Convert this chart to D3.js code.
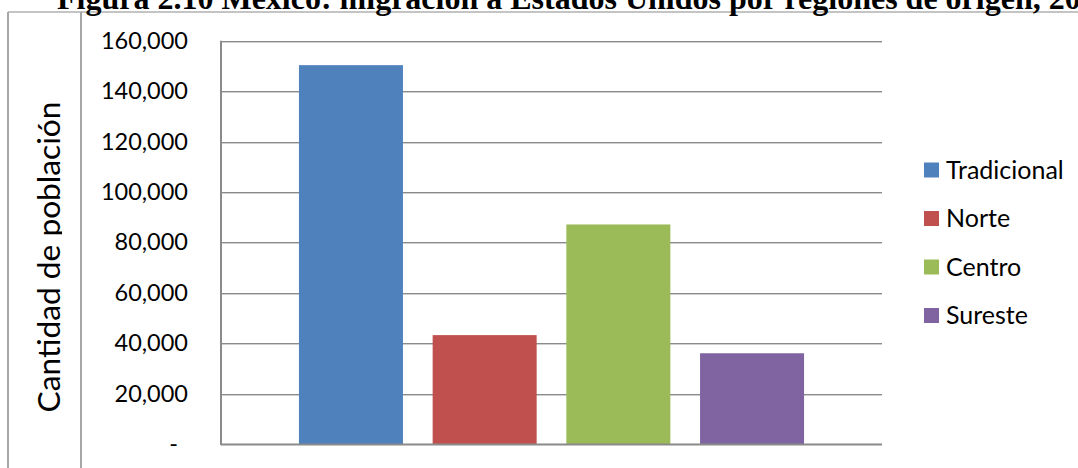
<!DOCTYPE html>
<html>
<head>
<meta charset="utf-8">
<script src="https://cdn.jsdelivr.net/npm/d3@7"></script>
<style>
  html, body { margin: 0; padding: 0; background: #fff; }
  svg { display: block; }
</style>
</head>
<body>
<svg id="chart" width="1078" height="468"></svg>
<script>
// Migrants to the United States by region of origin
const regions = ["Tradicional", "Norte", "Centro", "Sureste"];
const population = [150300, 43200, 87100, 36000];
const regionColors = ["#4F81BD", "#C0504D", "#9BBB59", "#8064A2"];
const yTicks = [0, 20000, 40000, 60000, 80000, 100000, 120000, 140000, 160000];
const titleText = "Figura 2.10 México: migración a Estados Unidos por regiones de origen, 2010";
const yTitle = "Cantidad de población";

const svg = d3.select("#chart");
const W = 1078, H = 468;
const plot = { left: 221, right: 882, top: 40.7, bottom: 444 };
const labelFont = "Lato, 'Open Sans', sans-serif";

// Frame of the figure
svg.append("line").attr("x1", 8).attr("x2", W).attr("y1", 12).attr("y2", 12)
  .attr("stroke", "#8a8a8a").attr("stroke-width", 1.2);
[8, 81].forEach(x => {
  svg.append("line").attr("x1", x).attr("x2", x).attr("y1", 12).attr("y2", H)
    .attr("stroke", "#a6a6a6").attr("stroke-width", 2);
});

// Figure title (runs off the top and right of the page)
svg.append("text")
  .attr("x", 57).attr("y", 8.5)
  .attr("font-family", "'Liberation Serif', 'Times New Roman', serif")
  .attr("font-weight", "bold")
  .attr("font-size", 32)
  .attr("fill", "#000")
  .text(titleText);

const y = d3.scaleLinear().domain([0, 160000]).range([plot.bottom, plot.top]);
const x = d3.scaleBand().domain(regions).range([plot.left, plot.right])
  .paddingInner(0.222).paddingOuter(0.583);

// Horizontal gridlines
const grid = svg.append("g");
yTicks.filter(t => t > 0).forEach(t => {
  const yy = Math.round(y(t));
  grid.append("line").attr("x1", plot.left).attr("x2", plot.right)
    .attr("y1", yy + 0.5).attr("y2", yy + 0.5).attr("stroke", "#8a8a8a");
  grid.append("line").attr("x1", plot.left).attr("x2", plot.right)
    .attr("y1", yy + 1.5).attr("y2", yy + 1.5).attr("stroke", "#cfcfcf");
});

// Bars
svg.append("g").selectAll("rect")
  .data(regions.map((r, i) => ({ region: r, value: population[i], color: regionColors[i] })))
  .join("rect")
  .attr("x", d => x(d.region))
  .attr("width", x.bandwidth())
  .attr("y", d => y(d.value))
  .attr("height", d => y(0) - y(d.value))
  .attr("fill", d => d.color);

// Y axis
const fmt = d3.format(",");
const yAxis = d3.axisLeft(y).tickValues(yTicks).tickSize(0).tickPadding(33)
  .tickFormat(d => d === 0 ? "-" : fmt(d));
const gy = svg.append("g").attr("transform", `translate(${plot.left},0)`).call(yAxis);
gy.select(".domain").remove();
gy.selectAll("text")
  .attr("font-family", labelFont).attr("font-size", 23.5).attr("fill", "#000")
  .attr("dx", d => d === 0 ? -10 : 0);

// Axis lines
svg.append("line").attr("x1", plot.left).attr("x2", plot.left)
  .attr("y1", plot.top).attr("y2", plot.bottom + 1)
  .attr("stroke", "#8a8a8a").attr("stroke-width", 2);
svg.append("line").attr("x1", plot.left).attr("x2", plot.right)
  .attr("y1", plot.bottom + 0.5).attr("y2", plot.bottom + 0.5)
  .attr("stroke", "#8a8a8a").attr("stroke-width", 2);

// Y axis title, clipped by its text box on the right
svg.append("defs").append("clipPath").attr("id", "titleClip")
  .append("rect").attr("x", 9).attr("y", 12).attr("width", 53).attr("height", H);
const yTitleText = svg.append("g").attr("clip-path", "url(#titleClip)")
  .append("text")
  .attr("transform", "translate(60,257) rotate(-90)")
  .attr("text-anchor", "middle")
  .attr("font-family", labelFont).attr("font-size", 30).attr("fill", "#000")
  .text(yTitle);
// size the title so it spans the height of its box
const len = yTitleText.node().getComputedTextLength();
yTitleText.attr("font-size", 30 * 311 / len);

// Legend
const legend = svg.append("g").selectAll("g")
  .data(regions.map((r, i) => ({ region: r, color: regionColors[i] })))
  .join("g")
  .attr("transform", (d, i) => `translate(924,${170 + i * 48.5})`);
legend.append("rect").attr("x", 0).attr("y", -7.5).attr("width", 15).attr("height", 15)
  .attr("fill", d => d.color);
legend.append("text").attr("x", 22).attr("y", 0).attr("dy", "0.35em")
  .attr("font-family", labelFont).attr("font-size", 25).attr("fill", "#000")
  .text(d => d.region);
</script>
</body>
</html>
